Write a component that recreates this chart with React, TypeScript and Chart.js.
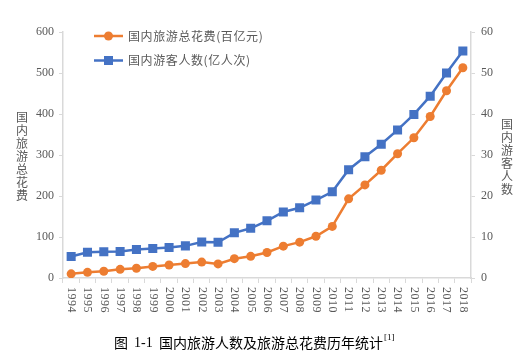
import { useEffect, useRef } from 'react';
import { Chart, registerables } from 'chart.js';

Chart.register(...registerables);

const FONT = "'Liberation Serif', 'Noto Sans CJK SC', serif";
const CJK = "'Noto Sans CJK SC', 'Liberation Serif', sans-serif";

const years = ['1994', '1995', '1996', '1997', '1998', '1999', '2000', '2001', '2002', '2003', '2004', '2005', '2006', '2007', '2008', '2009', '2010', '2011', '2012', '2013', '2014', '2015', '2016', '2017', '2018'];
// 国内旅游总花费 (百亿元)
const spending = [10.2, 13.8, 16.4, 21.1, 23.9, 28.3, 31.8, 35.2, 38.8, 34.4, 47.1, 52.9, 62.3, 77.7, 87.5, 101.8, 125.8, 193.1, 227.1, 262.8, 303.1, 342.0, 393.9, 456.6, 512.8];
// 国内游客人数 (亿人次)
const visitors = [5.24, 6.29, 6.39, 6.44, 6.94, 7.19, 7.44, 7.84, 8.78, 8.70, 11.02, 12.12, 13.94, 16.10, 17.12, 19.02, 21.03, 26.41, 29.57, 32.62, 36.11, 39.90, 44.35, 50.01, 55.39];

const spendingLabel = '国内旅游总花费(百亿元)';
const visitorsLabel = '国内游客人数(亿人次)';
const leftTitle = '国内旅游总花费';
const rightTitle = '国内游客人数';
const captionFig = '图';
const captionNum = '1-1';
const captionText = '国内旅游人数及旅游总花费历年统计';
const captionRef = '[1]';

const ORANGE = '#ED7D31';
const BLUE = '#4472C4';
const GRAY = '#595959';
const AXIS = '#d9d9d9';

const overlay = {
  id: 'overlay',
  afterDraw(chart: any) {
    const ctx = chart.ctx as CanvasRenderingContext2D;
    const xs = chart.scales.x;
    ctx.save();
    // x labels, rotated clockwise
    ctx.fillStyle = GRAY;
    ctx.font = `12px ${FONT}`;
    ctx.textAlign = 'left';
    ctx.textBaseline = 'middle';
    years.forEach((y, i) => {
      const px = xs.getPixelForValue(i);
      ctx.save();
      ctx.translate(px, xs.top + 9);
      ctx.rotate(Math.PI / 2);
      (ctx as any).letterSpacing = '0.5px';
      ctx.fillText(y, 0, 0);
      ctx.restore();
    });

    // axis titles, stacked characters
    const area = chart.chartArea;
    ctx.font = `12px ${CJK}`;
    ctx.textAlign = 'center';
    ctx.textBaseline = 'middle';
    const lt = Array.from(leftTitle);
    const lmid = (area.top + area.bottom) / 2 + 1;
    lt.forEach((c, i) => {
      ctx.fillText(c, 22, lmid + (i - (lt.length - 1) / 2) * 13);
    });
    const rt = Array.from(rightTitle);
    rt.forEach((c, i) => {
      ctx.fillText(c, 507, lmid + 1 + (i - (rt.length - 1) / 2) * 13);
    });

    // legend
    const items = [
      { label: spendingLabel, color: ORANGE, style: 'circle' },
      { label: visitorsLabel, color: BLUE, style: 'rect' },
    ];
    items.forEach((it, i) => {
      const y = 36 + i * 24.5;
      ctx.strokeStyle = it.color;
      ctx.lineWidth = 2.5;
      ctx.beginPath();
      ctx.moveTo(94, y);
      ctx.lineTo(123, y);
      ctx.stroke();
      ctx.fillStyle = it.color;
      if (it.style === 'circle') {
        ctx.beginPath();
        ctx.arc(108.5, y, 4.5, 0, Math.PI * 2);
        ctx.fill();
      } else {
        ctx.fillRect(104, y - 4.5, 9, 9);
      }
      ctx.fillStyle = GRAY;
      ctx.font = `12px ${CJK}`;
      ctx.textAlign = 'left';
      ctx.textBaseline = 'middle';
      (ctx as any).letterSpacing = '0.6px';
      ctx.fillText(it.label, 128, y);
      (ctx as any).letterSpacing = '0px';
    });

    // caption
    ctx.fillStyle = '#000';
    ctx.textAlign = 'left';
    ctx.textBaseline = 'middle';
    ctx.font = `14px ${CJK}`;
    ctx.fillText(captionFig, 114, 343);
    ctx.font = `14px ${FONT}`;
    ctx.fillText(captionNum, 134, 343);
    ctx.font = `14px ${CJK}`;
    ctx.fillText(captionText, 159, 343);
    const w = ctx.measureText(captionText).width;
    ctx.font = `9px ${FONT}`;
    ctx.fillText(captionRef, 159 + w + 1, 338);
    ctx.restore();
  },
};

export default function App() {
  const ref = useRef<HTMLCanvasElement>(null);
  useEffect(() => {
    document.body.style.margin = '0';
    const chart = new Chart(ref.current!, {
      type: 'line',
      data: {
        labels: years,
        datasets: [
          {
            label: spendingLabel,
            data: spending,
            yAxisID: 'y',
            borderColor: ORANGE,
            backgroundColor: ORANGE,
            borderWidth: 2.5,
            pointStyle: 'circle',
            pointRadius: 4.5,
            pointBorderWidth: 0,
            tension: 0,
          },
          {
            label: visitorsLabel,
            data: visitors,
            yAxisID: 'y1',
            borderColor: BLUE,
            backgroundColor: BLUE,
            borderWidth: 2.5,
            pointStyle: 'rect',
            pointRadius: 6.4,
            pointBorderWidth: 0,
            tension: 0,
          },
        ],
      },
      options: {
        responsive: false,
        animation: false,
        layout: { padding: { top: 32, left: 0, right: 0, bottom: 0 } },
        plugins: { legend: { display: false }, tooltip: { enabled: false } },
        scales: {
          x: {
            type: 'category',
            offset: true,
            grid: { offset: true, drawOnChartArea: false, color: AXIS, tickLength: 5 },
            border: { color: AXIS, width: 1.5 },
            ticks: { color: 'transparent', autoSkip: false, minRotation: 90, maxRotation: 90 },
            afterFit: (s: any) => { s.height = 82; },
          },
          y: {
            position: 'left',
            min: 0,
            max: 600,
            ticks: { stepSize: 100, color: GRAY, font: { family: FONT, size: 12 }, padding: 5 },
            grid: { drawOnChartArea: false, color: AXIS, tickLength: 4 },
            border: { color: AXIS, width: 1.5 },
            afterFit: (s: any) => { s.width = 63; },
          },
          y1: {
            position: 'right',
            min: 0,
            max: 60,
            ticks: { stepSize: 10, color: GRAY, font: { family: FONT, size: 12 }, padding: 6 },
            grid: { drawOnChartArea: false, color: AXIS, tickLength: 4 },
            border: { color: AXIS, width: 1.5 },
            afterFit: (s: any) => { s.width = 55; },
          },
        },
      },
      plugins: [overlay],
    });
    return () => chart.destroy();
  }, []);
  return (
    <div style={{ width: 526, height: 360 }}>
      <canvas ref={ref} width={526} height={360} style={{ display: 'block' }} />
    </div>
  );
}
